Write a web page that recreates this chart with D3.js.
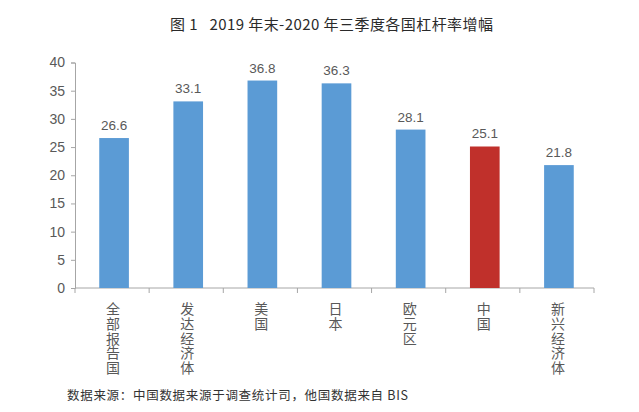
<!DOCTYPE html>
<html><head><meta charset="utf-8">
<script src="https://d3js.org/d3.v7.min.js"></script>
<style>body{margin:0;background:#fff;} svg{display:block;}</style>
</head><body>
<script>
const categories = ["全部报告国","发达经济体","美国","日本","欧元区","中国","新兴经济体"];
const values = [26.6, 33.1, 36.8, 36.3, 28.1, 25.1, 21.8];
const highlight = ["中国"];
const yTicks = [0,5,10,15,20,25,30,35,40];
const title = "图 1   2019 年末-2020 年三季度各国杠杆率增幅";
const source = "数据来源：中国数据来源于调查统计司，他国数据来自 BIS";

const W = 639, H = 412;
const svg = d3.select("body").append("svg").attr("width", W).attr("height", H);
const x = d3.scaleBand().domain(categories).range([75, 594]).paddingInner(0.6).paddingOuter(0.3);
const y = d3.scaleLinear().domain([0, 40]).range([288, 62.5]);
const grey = "#595959";
const font = "'Liberation Sans','Noto Sans CJK SC',sans-serif";
const shift = 2;

svg.append("text").attr("x", 170).attr("y", 30)
  .attr("font-family", "'Noto Sans CJK SC',sans-serif").attr("font-size", 15)
  .attr("fill", "#2a2a2a").attr("textLength", 323).attr("lengthAdjust", "spacing")
  .style("white-space","pre").text(title);

// y axis
const ya = svg.append("g").attr("transform", "translate(75,0)")
  .call(d3.axisLeft(y).tickValues(yTicks).tickSize(4).tickPadding(6));
ya.selectAll("path,line").attr("stroke", "#a6a6a6");
ya.selectAll("text").attr("fill", grey).attr("font-size", 14).attr("font-family", font);

// x axis line with boundary ticks
const xa = svg.append("g");
xa.append("line").attr("x1", 75).attr("x2", 594).attr("y1", 288).attr("y2", 288).attr("stroke", "#a6a6a6");
xa.selectAll(".b").data(d3.range(categories.length + 1)).join("line")
  .attr("x1", i => 75 + i * (594-75)/categories.length).attr("x2", i => 75 + i * (594-75)/categories.length)
  .attr("y1", 288).attr("y2", 293).attr("stroke", "#a6a6a6");

// bars
svg.selectAll(".bar").data(categories).join("rect")
  .attr("x", d => x(d) + shift).attr("width", x.bandwidth())
  .attr("y", (d,i) => y(values[i])).attr("height", (d,i) => y(0) - y(values[i]))
  .attr("fill", d => highlight.includes(d) ? "#c0302b" : "#5b9bd5");

// data labels
svg.selectAll(".lbl").data(categories).join("text")
  .attr("x", d => x(d) + x.bandwidth()/2 + shift).attr("y", (d,i) => y(values[i]) - 8)
  .attr("text-anchor", "middle").attr("fill", grey).attr("font-size", 13.5).attr("font-family", font)
  .text((d,i) => values[i].toFixed(1));

// vertical category labels
svg.selectAll(".cat").data(categories).join("text")
  .attr("x", d => x(d) + x.bandwidth()/2 + 1).attr("y", 302)
  .attr("fill", grey).attr("font-size", 14)
  .attr("font-family", "'Noto Sans CJK SC',sans-serif")
  .style("writing-mode", "vertical-rl").style("letter-spacing", "0.6px")
  .text(d => d);

svg.append("text").attr("x", 67).attr("y", 400)
  .attr("font-family", "'Noto Sans CJK SC',serif").attr("font-size", 12.5)
  .attr("fill", "#333").attr("textLength", 341).attr("lengthAdjust", "spacing").text(source);
</script>
</body></html>
